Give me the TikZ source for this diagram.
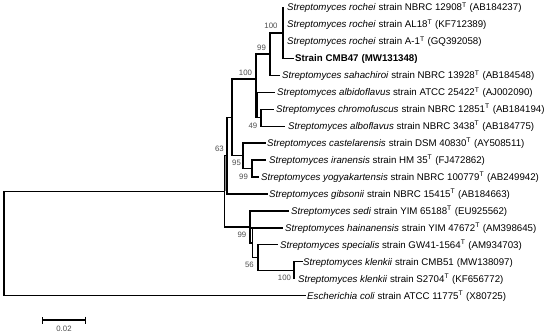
\documentclass[tikz,border=0pt]{standalone}
\usepackage{fontspec}
\setmainfont{Liberation Sans}
\usetikzlibrary{arrows.meta}
\begin{document}
\begin{tikzpicture}[x=1pt,y=-1pt,
  br/.style={line width=1.3pt, line cap=rect, line join=miter},
  lab/.style={anchor=base west, font=\fontsize{9.7}{10}\selectfont, inner sep=0pt},
  bs/.style={anchor=center, font=\fontsize{7.8}{8}\selectfont, text=black!70, inner sep=0pt}]
\useasboundingbox (0,0) rectangle (550,335);
% leaf tips
\coordinate (l0) at (283,7.5);
\coordinate (l1) at (283,24.45);
\coordinate (l2) at (283,41.4);
\coordinate (l3) at (293,58.35);
\coordinate (l4) at (279,75.3);
\coordinate (l5) at (274,92.25);
\coordinate (l6) at (273,109.2);
\coordinate (l7) at (284,126.15);
\coordinate (l8) at (265,143.1);
\coordinate (l9) at (265,160.05);
\coordinate (l10) at (258,177.0);
\coordinate (l11) at (267,193.95);
\coordinate (l12) at (288,210.9);
\coordinate (l13) at (282,227.85);
\coordinate (l14) at (277,244.8);
\coordinate (l15) at (302,261.75);
\coordinate (l16) at (294,278.7);
\coordinate (l17) at (305,295.65);
% internal nodes
\coordinate (Rn) at (283,32.9);
\coordinate (R) at (270,54.1);
\coordinate (N49) at (261,117.7);
\coordinate (N99) at (256,79);
\coordinate (N99x) at (257.5,92.25);
\coordinate (N99y) at (257.5,117.7);
\coordinate (N99b) at (252,168.5);
\coordinate (N95) at (243,155.8);
\coordinate (D) at (232,117.4);
\coordinate (N63) at (227,155.7);
\coordinate (S) at (250,227);
\coordinate (S2) at (252.5,243);
\coordinate (N56) at (258,257.5);
\coordinate (Kn) at (294,270.2);
\coordinate (A) at (224.2,191.35);
\coordinate (Root) at (4,243.5);
% grey overlap band between the two close verticals
\fill[black!45] (A |- N63) rectangle (N63 |- A);
% branches
\draw[br] (Rn) -- (l0) (Rn) -- (l1) (Rn) -- (l2) (Rn) |- (l3);
\draw[br] (R) |- (Rn) (R) |- (l4);
\draw[br] (N49) |- (l6) (N49) |- (l7);
\draw[br] (N99) |- (R) (N99) |- (l5) (N99) |- (N49);
\draw[br] (N99x) -- (N99y);
\draw[br] (N99b) |- (l9) (N99b) |- (l10);
\draw[br] (N95) |- (l8) (N95) |- (N99b);
\draw[br] (D) |- (N99) (D) |- (N95);
\draw[br] (N63) |- (D) (N63) |- (l11);
\draw[br] (Kn) |- (l15) (Kn) -- (l16);
\draw[br] (N56) |- (l14) (N56) |- (Kn);
\draw[br] (S2) |- (N56) (S2) -- (S2 |- l13);
\draw[br] (S) |- (l12) (S) |- (l13) (S) |- (S2);
\draw[br] (A) |- (N63) (A) |- (S);
\draw[br] (Root) |- (A) (Root) |- (l17);
% leaf labels
\node[lab] (t0) at (287,10.9) {\textit{Streptomyces rochei} strain NBRC 12908\textsuperscript{T}\hspace{3pt}(AB184237)};
\node[lab] (t1) at (287,27.85) {\textit{Streptomyces rochei} strain AL18\textsuperscript{T}\hspace{3pt}(KF712389)};
\node[lab] (t2) at (287,44.8) {\textit{Streptomyces rochei} strain A-1\textsuperscript{T}\hspace{3pt}(GQ392058)};
\node[lab] (t3) at (295,61.75) {\textbf{Strain\hspace{3pt}CMB47\hspace{3pt}(MW131348)}};
\node[lab] (t4) at (282,78.7) {\textit{Streptomyces sahachiroi} strain NBRC 13928\textsuperscript{T}\hspace{3pt}(AB184548)};
\node[lab] (t5) at (277,95.65) {\textit{Streptomyces albidoflavus} strain ATCC 25422\textsuperscript{T}\hspace{3pt}(AJ002090)};
\node[lab] (t6) at (276,112.6) {\textit{Streptomyces chromofuscus}\hspace{3pt}strain NBRC 12851\textsuperscript{T}\hspace{3pt}(AB184194)};
\node[lab] (t7) at (288,129.55) {\textit{Streptomyces alboflavus} strain NBRC 3438\textsuperscript{T}\hspace{3pt}(AB184775)};
\node[lab] (t8) at (267,146.5) {\textit{Streptomyces castelarensis}\hspace{3pt}strain DSM 40830\textsuperscript{T}\hspace{3pt}(AY508511)};
\node[lab] (t9) at (269,163.45) {\textit{Streptomyces iranensis} strain HM 35\textsuperscript{T}\hspace{3pt}(FJ472862)};
\node[lab] (t10) at (261,180.4) {\textit{Streptomyces yogyakartensis} strain NBRC 100779\textsuperscript{T}\hspace{3pt}(AB249942)};
\node[lab] (t11) at (269,197.35) {\textit{Streptomyces gibsonii} strain NBRC 15415\textsuperscript{T}\hspace{3pt}(AB184663)};
\node[lab] (t12) at (291,214.3) {\textit{Streptomyces sedi} strain YIM 65188\textsuperscript{T}\hspace{3pt}(EU925562)};
\node[lab] (t13) at (285,231.25) {\textit{Streptomyces hainanensis}\hspace{3pt}strain YIM 47672\textsuperscript{T}\hspace{3pt}(AM398645)};
\node[lab] (t14) at (280,248.2) {\textit{Streptomyces specialis} strain GW41-1564\textsuperscript{T}\hspace{3pt}(AM934703)};
\node[lab] (t15) at (303,265.15) {\textit{Streptomyces klenkii} strain CMB51\hspace{3pt}(MW138097)};
\node[lab] (t16) at (298,282.1) {\textit{Streptomyces klenkii} strain S2704\textsuperscript{T}\hspace{3pt}(KF656772)};
\node[lab] (t17) at (307,299.05) {\textit{Escherichia coli} strain ATCC 11775\textsuperscript{T}\hspace{3pt}(X80725)};
% bootstrap values
\node[bs] (b1) at (271,26) {100};
\node[bs] (b2) at (261.5,48) {99};
\node[bs] (b3) at (245.5,73) {100};
\node[bs] (b4) at (253,126) {49};
\node[bs] (b5) at (219.5,149) {63};
\node[bs] (b6) at (236.5,163) {95};
\node[bs] (b7) at (243.5,176.5) {99};
\node[bs] (b8) at (242,235) {99};
\node[bs] (b9) at (249.5,265) {56};
\node[bs] (b10) at (284.5,278) {100};
% scale bar
\coordinate (sb1) at (42,320);
\coordinate (sb2) at (86,320);
\draw[line width=1.3pt, {Bar[width=7pt,line width=1.3pt]}-{Bar[width=7pt,line width=1.3pt]}] (sb1) -- (sb2);
\node[bs] (sbl) at (64,328.5) {0.02};
\end{tikzpicture}
\end{document}
